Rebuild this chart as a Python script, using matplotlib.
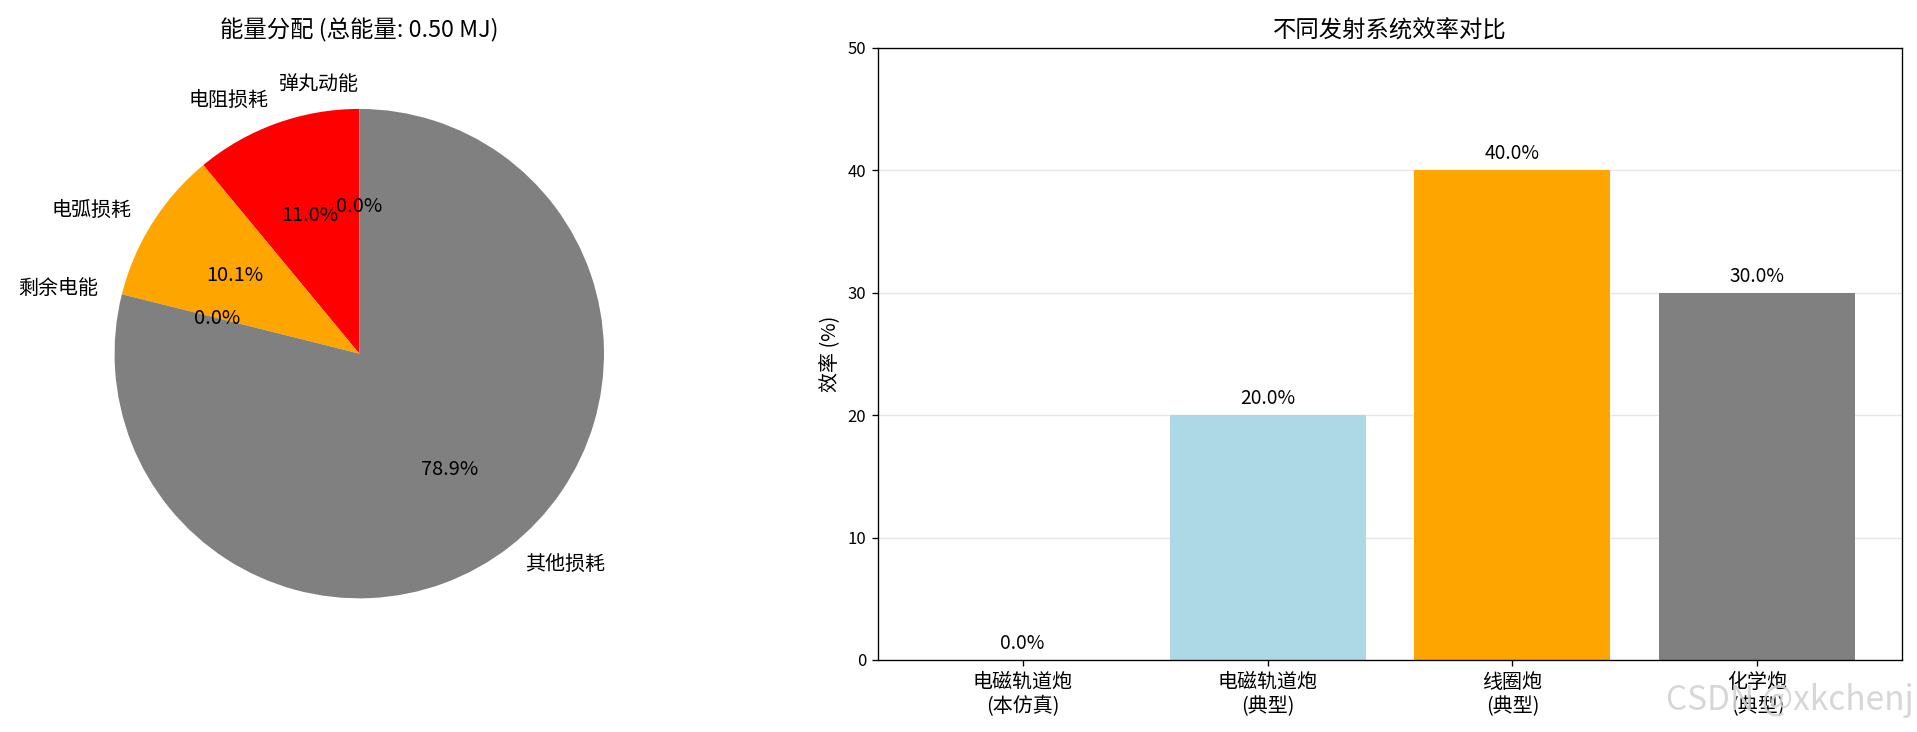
import matplotlib
matplotlib.use('Agg')
import matplotlib.pyplot as plt

plt.rcParams['font.family'] = ['Noto Sans CJK SC', 'DejaVu Sans']
plt.rcParams['axes.unicode_minus'] = False

# energy split (percent of total energy)
energy_labels = ['弹丸动能', '电阻损耗', '电弧损耗', '剩余电能', '其他损耗']
energy_values = [0.001, 11.0, 10.1, 0.001, 78.9]
energy_colors = ['#1f77b4', 'red', 'orange', 'green', 'gray']
total_energy = 0.50

# efficiency comparison
systems = ['电磁轨道炮\n(本仿真)', '电磁轨道炮\n(典型)', '线圈炮\n(典型)', '化学炮\n(典型)']
efficiency = [0.0, 20.0, 40.0, 30.0]
bar_colors = ['#1f77b4', 'lightblue', 'orange', 'gray']

W, H = 1917, 732
fig = plt.figure(figsize=(W / 120, H / 120), dpi=120)

# pie on the left
ax1 = fig.add_axes([53.4 / W, 72.5 / H, 611.75 / W, 611.75 / H])
ax1.pie(energy_values, labels=energy_labels, colors=energy_colors,
        autopct='%1.1f%%', startangle=90, textprops={'fontsize': 12})
ax1.set_title('能量分配 (总能量: %.2f MJ)' % total_energy, fontsize=14)

# bars on the right
ax2 = fig.add_axes([878 / W, 72 / H, 1024 / W, 612 / H])
bars = ax2.bar(range(len(systems)), efficiency, color=bar_colors, width=0.8)
for b, v in zip(bars, efficiency):
    ax2.text(b.get_x() + b.get_width() / 2, b.get_height() + 0.5, '%.1f%%' % v,
             ha='center', va='bottom', fontsize=11.5)
ax2.set_xticks(range(len(systems)))
ax2.set_xticklabels(systems, fontsize=12)
ax2.set_ylim(0, 50)
ax2.set_ylabel('效率 (%)', fontsize=12)
ax2.set_title('不同发射系统效率对比', fontsize=14)
ax2.grid(True, axis='y', alpha=0.3)
ax2.set_axisbelow(True)

# site watermark
fig.text(1914 / W, (H - 701) / H, 'CSDN @xkchenj', ha='right', va='center',
         fontsize=20, color='#d3d3d3', alpha=0.9)

fig.savefig('out.png', dpi=120)
